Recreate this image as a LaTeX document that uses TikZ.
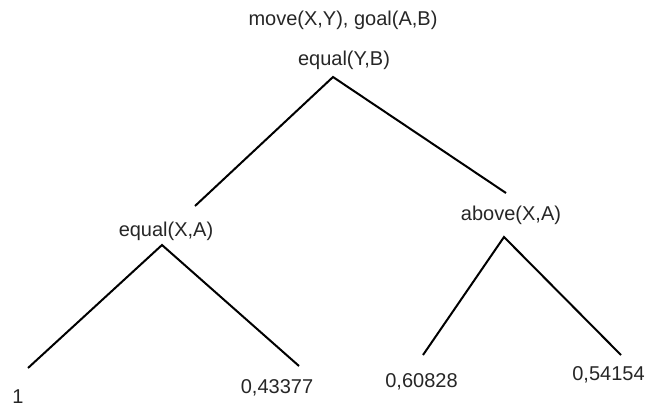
\documentclass[tikz,border=0pt]{standalone}
\usepackage{fontspec}
\setmainfont{Liberation Sans}
\begin{document}
\begin{tikzpicture}[x=1pt,y=-1pt,
  lbl/.style={anchor=base,inner sep=0pt,text=black!85,font=\fontsize{20}{24}\selectfont},
  branch/.style={draw=black,line width=2pt}]
\useasboundingbox (0,0) rectangle (649,408);
% labels
\node[lbl] (head) at (343,25) {move(X,Y), goal(A,B)};
\node[lbl] (root) at (344,65) {equal(Y,B)};
\node[lbl] (lt) at (166,236) {equal(X,A)};
\node[lbl] (rt) at (511,220) {above(X,A)};
\node[lbl] (l1) at (18,403) {1};
\node[lbl] (l2) at (277,393) {0,43377};
\node[lbl] (l3) at (421.5,387) {0,60828};
\node[lbl] (l4) at (608.5,380) {0,54154};
% branch end points
\coordinate (rootTop) at (333,77);
\coordinate (rootL) at (195,206);
\coordinate (rootR) at (506,193);
\coordinate (ltTop) at (162,245);
\coordinate (ltL) at (28,368);
\coordinate (ltR) at (299,366);
\coordinate (rtTop) at (504,237);
\coordinate (rtL) at (423,355);
\coordinate (rtR) at (621,355);
% branches
\draw[branch] (rootL) -- (rootTop) -- (rootR);
\draw[branch] (ltL) -- (ltTop) -- (ltR);
\draw[branch] (rtL) -- (rtTop) -- (rtR);
\end{tikzpicture}
\end{document}
